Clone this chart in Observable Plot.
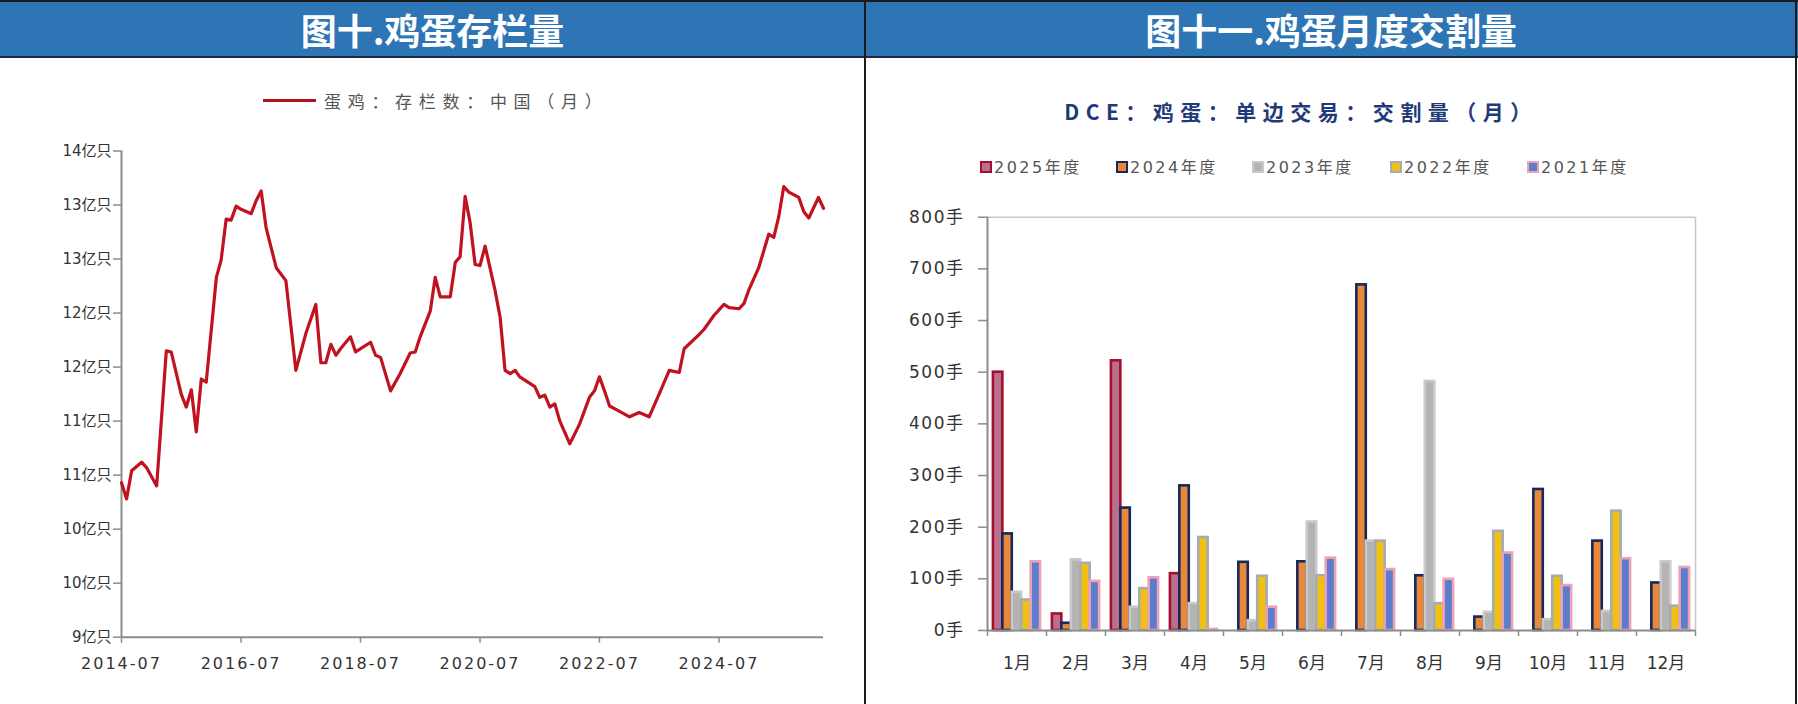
<!DOCTYPE html>
<html><head><meta charset="utf-8">
<script src="https://cdn.jsdelivr.net/npm/d3@7"></script>
<script src="https://cdn.jsdelivr.net/npm/@observablehq/plot@0.6"></script>
<style>
body{margin:0;background:#fff;}
#page{position:relative;width:1798px;height:704px;background:#fff;overflow:hidden;font-family:"DejaVu Sans","Noto Sans CJK SC",sans-serif;}
.abs{position:absolute;}
.title{position:absolute;top:2px;height:55px;line-height:55px;color:#fff;font-family:"Noto Sans CJK SC",sans-serif;font-weight:700;font-size:36px;text-align:center;white-space:nowrap;}
#leftChart{position:absolute;left:0;top:120px;}
#rightChart{position:absolute;left:865px;top:190px;}
#leftChart .xax text{letter-spacing:2px;}
#rightChart .yax text{letter-spacing:1.5px;}
.legItem{position:absolute;top:158px;height:20px;line-height:20px;font-size:16px;color:#555;letter-spacing:2.5px;white-space:nowrap;}
.sw{display:inline-block;width:8px;height:8px;border-width:2px;border-style:solid;vertical-align:middle;margin-right:2px;position:relative;top:-2px;}
</style></head>
<body><div id="page">
<div class="abs" style="left:0;top:0;width:1798px;height:2px;background:#1a1a1a"></div>
<div class="abs" style="left:0;top:2px;width:1798px;height:55px;background:#2e75b6"></div>
<div class="abs" style="left:0;top:56px;width:1798px;height:2px;background:#1b2a40"></div>
<div class="title" style="left:0;width:865px">图十.鸡蛋存栏量</div>
<div class="title" style="left:866px;width:930px">图十一.鸡蛋月度交割量</div>
<div class="abs" style="left:864px;top:0;width:2px;height:704px;background:#1a1a1a"></div>
<div class="abs" style="left:1795px;top:0;width:2px;height:704px;background:#1a1a1a"></div>

<div class="abs" style="left:263px;top:99px;width:53px;height:3px;background:#b3121d"></div>
<div class="abs" style="left:324px;top:90px;height:22px;line-height:22px;font-family:'Noto Sans CJK SC',sans-serif;font-size:17px;letter-spacing:6.7px;color:#555;white-space:nowrap;">蛋鸡：存栏数：中国（月）</div>

<div class="abs" style="left:990px;top:97px;width:622px;height:28px;line-height:28px;text-align:center;font-family:'Noto Sans CJK SC',sans-serif;font-weight:700;font-size:21px;letter-spacing:6.5px;color:#1f3a78;white-space:nowrap;">DCE：鸡蛋：单边交易：交割量（月）</div>
<div id="legend"></div>

<div id="leftChart"></div>
<div id="rightChart"></div>
</div>
<script>
// ---------- Left chart data: 蛋鸡存栏数 (亿只) ----------
const lineDates = ["2014-07","2014-08","2014-09","2014-11","2014-12","2015-02","2015-04","2015-05","2015-07","2015-08","2015-09","2015-10","2015-11","2015-12","2016-02","2016-03","2016-04","2016-05","2016-06","2016-07","2016-09","2016-10","2016-11","2016-12","2017-02","2017-04","2017-06","2017-08","2017-10","2017-11","2017-12","2018-01","2018-02","2018-03","2018-05","2018-06","2018-09","2018-10","2018-11","2019-01","2019-03","2019-05","2019-06","2019-07","2019-09","2019-10","2019-11","2020-01","2020-02","2020-03","2020-04","2020-05","2020-06","2020-07","2020-08","2020-10","2020-11","2020-12","2021-01","2021-02","2021-03","2021-06","2021-07","2021-08","2021-09","2021-10","2021-11","2022-01","2022-03","2022-05","2022-06","2022-07","2022-08","2022-09","2022-11","2023-01","2023-03","2023-05","2023-07","2023-09","2023-11","2023-12","2024-03","2024-04","2024-06","2024-08","2024-09","2024-11","2024-12","2025-01","2025-03","2025-05","2025-06","2025-07","2025-08","2025-09","2025-11","2025-12","2026-01","2026-03","2026-04"];
const lineValues = [10.93,10.78,11.04,11.12,11.07,10.90,12.15,12.14,11.75,11.63,11.79,11.40,11.89,11.86,12.83,12.99,13.37,13.36,13.49,13.46,13.42,13.54,13.63,13.29,12.92,12.80,11.97,12.31,12.58,12.04,12.04,12.21,12.11,12.17,12.28,12.14,12.23,12.11,12.09,11.78,11.94,12.13,12.14,12.28,12.52,12.83,12.65,12.65,12.97,13.02,13.58,13.34,12.95,12.94,13.12,12.71,12.46,11.97,11.94,11.97,11.91,11.82,11.72,11.74,11.63,11.66,11.50,11.29,11.47,11.72,11.78,11.91,11.78,11.64,11.59,11.54,11.58,11.54,11.75,11.97,11.95,12.17,12.30,12.35,12.48,12.58,12.55,12.54,12.59,12.72,12.92,13.23,13.20,13.39,13.67,13.62,13.57,13.44,13.38,13.57,13.47];
const lineSeriesName = "蛋鸡：存栏数：中国（月）";
const yTicksLeft = [9.5,10,10.5,11,11.5,12,12.5,13,13.5,14];
const yTickLabelsLeft = ["9亿只","10亿只","10亿只","11亿只","11亿只","12亿只","12亿只","13亿只","13亿只","14亿只"];
const xTickLabelsLeft = ["2014-07","2016-07","2018-07","2020-07","2022-07","2024-07"];
const xDomainLeft = ["2014-07","2026-04"];

// ---------- Right chart data: DCE 鸡蛋 交割量 (手) ----------
const months = ["1月","2月","3月","4月","5月","6月","7月","8月","9月","10月","11月","12月"];
const years = ["2025年度","2024年度","2023年度","2022年度","2021年度"];
const v2025 = [500, 32, 522, 110, null, null, null, null, null, null, null, null];
const v2024 = [187, 14, 237, 280, 132, 133, 669, 106, 26, 273, 173, 92];
const v2023 = [74, 137, 45, 52, 19, 210, 173, 482, 35, 21, 37, 133];
const v2022 = [59, 130, 81, 180, 105, 106, 173, 52, 192, 105, 231, 47];
const v2021 = [133, 95, 102, 2, 45, 140, 118, 99, 150, 87, 139, 122];
const yTicksRight = [0,100,200,300,400,500,600,700,800];
const barFills   = ["#b8708c","#e8883a","#b3b3b3","#f2c012","#5b7dcc"];
const barStrokes = ["#a50f2d","#16285c","#c9c9c9","#a3abb6","#eda2b6"];

// ---------- Left chart ----------
const parse = d3.utcParse("%Y-%m");
const lineData = lineDates.map((d, i) => ({date: parse(d), value: lineValues[i], series: lineSeriesName}));
const axisGray = "#8c8c8c";
const left = Plot.plot({
  width: 865, height: 560,
  marginLeft: 121, marginRight: 42, marginTop: 30.5, marginBottom: 43.3,
  x: {type: "utc", domain: xDomainLeft.map(parse), label: null},
  y: {domain: [9.5, 14], label: null},
  style: {fontFamily: '"DejaVu Sans","Noto Sans CJK SC",sans-serif', fontSize: "15px", color: "#333", background: "transparent", overflow: "visible"},
  marks: [
    Plot.axisY({ticks: yTicksLeft, tickFormat: d => yTickLabelsLeft[yTicksLeft.indexOf(d)], tickSize: 8, tickPadding: 2, stroke: axisGray, strokeWidth: 1.5, fill: "#333", label: null}),
    Plot.axisX({ticks: xTickLabelsLeft.map(parse), tickFormat: d3.utcFormat("%Y-%m"), tickSize: 6, tickPadding: 14, stroke: axisGray, strokeWidth: 1.5, fill: "#333", fontSize: 16, label: null, className: "xax"}),
    Plot.ruleY([9.5], {stroke: axisGray, strokeWidth: 2}),
    Plot.ruleX([parse(xDomainLeft[0])], {stroke: axisGray, strokeWidth: 2}),
    Plot.line(lineData, {x: "date", y: "value", stroke: "#c0121f", strokeWidth: 3.2, strokeLinejoin: "round"})
  ]
});
document.getElementById("leftChart").appendChild(left);

// ---------- Right chart ----------
const seriesValues = [v2025, v2024, v2023, v2022, v2021];
const barData = [];
years.forEach((yr, s) => seriesValues[s].forEach((v, m) => {
  if (v != null) barData.push({month: m + 1, s, year: yr, value: v, fill: barFills[s], stroke: barStrokes[s]});
}));
const groupPad = 0.1, barW = 0.16;
const boundaries = d3.range(0, 13).map(i => i + 0.5);
const right = Plot.plot({
  width: 933, height: 490,
  marginLeft: 122, marginRight: 103, marginTop: 26.7, marginBottom: 50,
  x: {type: "linear", domain: [0.5, 12.5], label: null},
  y: {domain: [0, 800], label: null},
  color: {type: "identity"},
  style: {fontFamily: '"DejaVu Sans","Noto Sans CJK SC",sans-serif', fontSize: "16px", color: "#333", background: "transparent", overflow: "visible"},
  marks: [
    Plot.ruleY([800], {stroke: "#c8c8c8", strokeWidth: 1.5}),
    Plot.ruleX([12.5], {stroke: "#c8c8c8", strokeWidth: 1.5}),
    Plot.rectY(barData, {
      x1: d => d.month - 0.5 + groupPad + d.s * barW,
      x2: d => d.month - 0.5 + groupPad + (d.s + 1) * barW,
      y1: 0, y2: "value",
      fill: "fill", stroke: "stroke", strokeWidth: 2.6
    }),
    Plot.ruleY([0], {stroke: axisGray, strokeWidth: 2}),
    Plot.ruleX([0.5], {stroke: axisGray, strokeWidth: 2}),
    Plot.axisY({ticks: yTicksRight, tickFormat: d => d + "手", tickSize: 9, tickPadding: 14, stroke: axisGray, strokeWidth: 1.5, fill: "#333", fontSize: 17, label: null, className: "yax"}),
    Plot.axisX({ticks: boundaries, tickFormat: () => "", tickSize: 6, stroke: axisGray, strokeWidth: 1.5, label: null}),
    Plot.axisX({ticks: d3.range(1, 13), tickFormat: d => months[d - 1], tickSize: 0, tickPadding: 26, fill: "#333", fontSize: 17, label: null})
  ]
});
document.getElementById("rightChart").appendChild(right);

// ---------- Right legend ----------
const legendX = [980, 1116, 1252, 1390, 1527];
const legend = document.getElementById("legend");
years.forEach((yr, s) => {
  const item = document.createElement("div");
  item.className = "legItem";
  item.style.left = legendX[s] + "px";
  const sw = document.createElement("span");
  sw.className = "sw";
  sw.style.background = barFills[s];
  sw.style.borderColor = barStrokes[s];
  item.appendChild(sw);
  item.appendChild(document.createTextNode(yr));
  legend.appendChild(item);
});
</script>
</body></html>
